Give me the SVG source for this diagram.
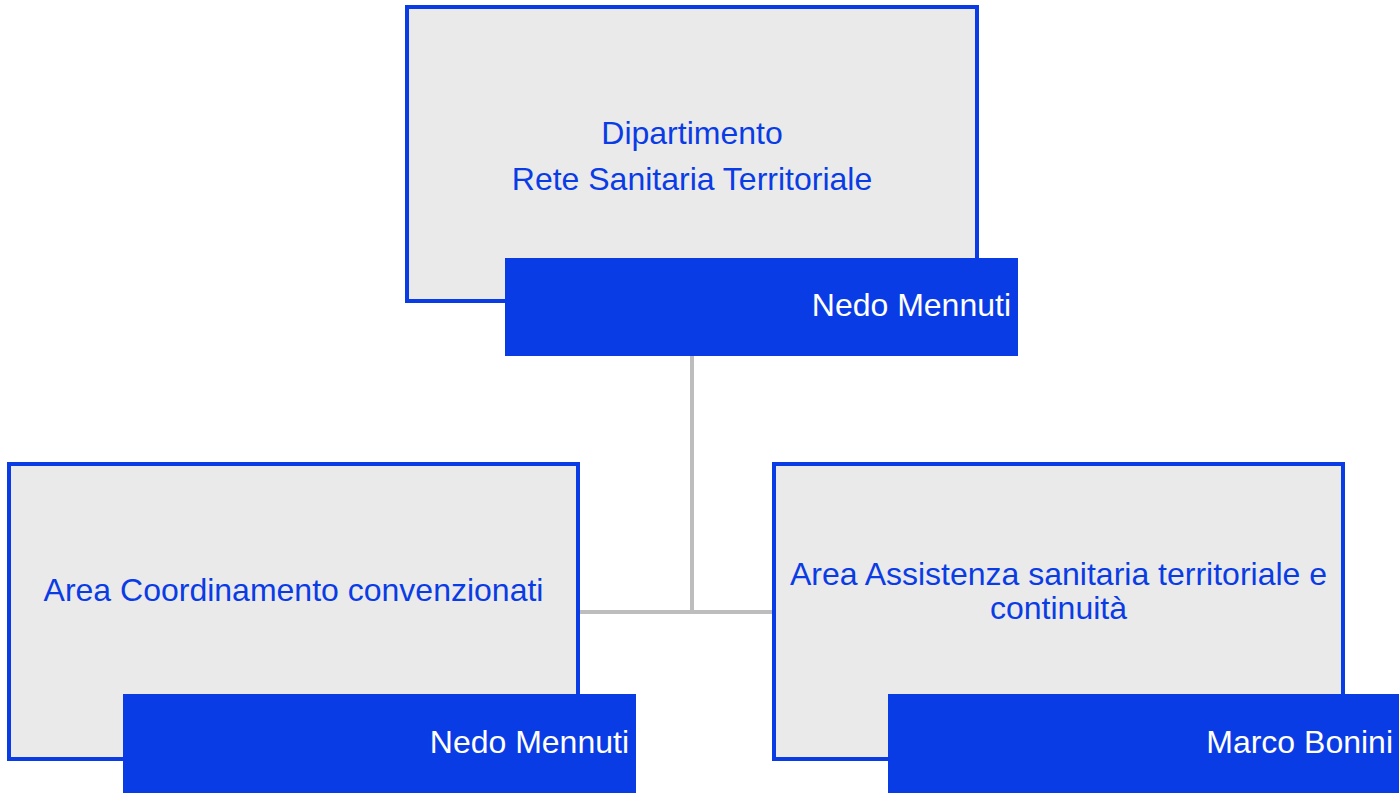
<svg xmlns="http://www.w3.org/2000/svg" width="1399" height="793" viewBox="0 0 1399 793">
<style>
.box{fill:#eaeaea;stroke:#0a3ce6;stroke-width:4}
.lab{fill:#0a3ce6}
.t{font-family:"Liberation Sans",Arial,sans-serif;font-size:32px;fill:#0a3ce6;text-anchor:middle}
.n{font-family:"Liberation Sans",Arial,sans-serif;font-size:32px;fill:#ffffff;text-anchor:end}
.c{stroke:#bdbdbd;stroke-width:4;fill:none}
</style>
<rect width="1399" height="793" fill="#ffffff"/>
<g id="connectors">
<path class="c" d="M692 356 V612 M580 612 H772"/>
</g>
<g id="node-dipartimento">
<rect class="box" x="407" y="7" width="570" height="294"/>
<text class="t" x="692" y="144">Dipartimento</text>
<text class="t" x="692" y="190">Rete Sanitaria Territoriale</text>
<rect class="lab" x="505" y="258" width="513" height="98"/>
<text class="n" x="1011" y="316">Nedo Mennuti</text>
</g>
<g id="node-coordinamento">
<rect class="box" x="9" y="464" width="569" height="295"/>
<text class="t" x="293.5" y="601">Area Coordinamento convenzionati</text>
<rect class="lab" x="123" y="694" width="513" height="99"/>
<text class="n" x="629" y="753">Nedo Mennuti</text>
</g>
<g id="node-assistenza">
<rect class="box" x="774" y="464" width="569" height="295"/>
<text class="t" x="1058.5" y="585">Area Assistenza sanitaria territoriale e</text>
<text class="t" x="1058.5" y="619">continuità</text>
<rect class="lab" x="888" y="694" width="511" height="99"/>
<text class="n" x="1393" y="753">Marco Bonini</text>
</g>
</svg>
